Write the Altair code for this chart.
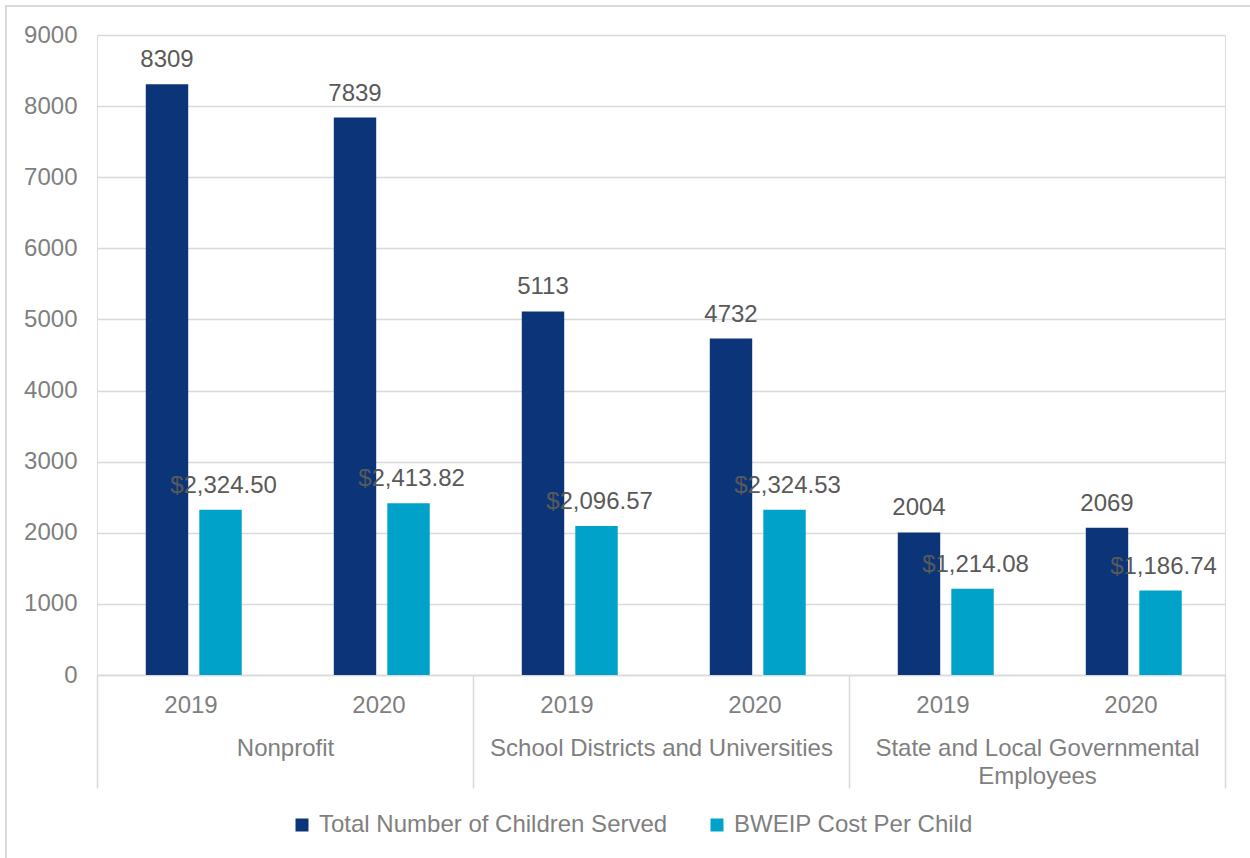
import altair as alt
import pandas as pd

categories = ["Nonprofit", "School Districts and Universities", "State and Local Governmental Employees"]
years = ["2019", "2020"]
series = ["Total Number of Children Served", "BWEIP Cost Per Child"]
children_served = [8309, 7839, 5113, 4732, 2004, 2069]
cost_per_child = [2324.50, 2413.82, 2096.57, 2324.53, 1214.08, 1186.74]
y_ticks = [0, 1000, 2000, 3000, 4000, 5000, 6000, 7000, 8000, 9000]

colors = ["#0b3578", "#00a2c9"]
GRAY = "#7f7f7f"
LABEL = "#595959"
FONT = "Liberation Sans"

rows = []
slots = []
i = 0
for c in categories:
    for yr in years:
        slot = f"{c}|{yr}"
        slots.append(slot)
        rows.append({"slot": slot, "series": series[0], "value": children_served[i],
                     "label": f"{children_served[i]:d}"})
        rows.append({"slot": slot, "series": series[1], "value": cost_per_child[i],
                     "label": f"${cost_per_child[i]:,.2f}"})
        i += 1
df = pd.DataFrame(rows)
cat_df = pd.DataFrame({"category": categories})

x_enc = alt.X("slot:N", sort=slots,
              scale=alt.Scale(paddingInner=0, paddingOuter=0),
              axis=alt.Axis(title=None, labelExpr="split(datum.value, '|')[1]",
                            ticks=False, domain=False, grid=False, labelAngle=0,
                            labelPadding=30, labelBaseline="middle",
                            labelFontSize=24, labelColor=GRAY, labelFont=FONT))
xoff_enc = alt.XOffset("series:N", sort=series,
                       scale=alt.Scale(paddingInner=0.2075, paddingOuter=0.86, align=0.53))
y_enc = alt.Y("value:Q", scale=alt.Scale(domain=[0, 9000], nice=False),
              axis=alt.Axis(title=None, values=y_ticks, format="d", ticks=False,
                            domain=False, grid=True, gridColor="#d9d9d9",
                            gridWidth=1.5, labelPadding=20, labelFontSize=24,
                            labelColor=GRAY, labelFont=FONT))

bars = alt.Chart(df).mark_bar().encode(
    x=x_enc,
    xOffset=xoff_enc,
    y=y_enc,
    color=alt.Color("series:N", sort=series,
                    scale=alt.Scale(domain=series, range=colors),
                    legend=alt.Legend(title=None, orient="none", direction="horizontal",
                                      legendX=193, legendY=778,
                                      symbolType="square", symbolSize=169,
                                      symbolStrokeWidth=0, labelFontSize=24,
                                      labelColor=GRAY, labelFont=FONT,
                                      labelOffset=5, columnPadding=37,
                                      labelLimit=500)),
)

count_text = alt.Chart(df).transform_filter(
    alt.datum.series == series[0]
).mark_text(baseline="alphabetic", dy=-17, fontSize=24, font=FONT, color=LABEL).encode(
    x=x_enc,
    xOffset=xoff_enc,
    y=y_enc,
    text="label:N",
)

cost_text = alt.Chart(df).transform_filter(
    alt.datum.series == series[1]
).mark_text(baseline="alphabetic", dy=-17, dx=3, fontSize=24, font=FONT, color=LABEL).encode(
    x=x_enc,
    xOffset=xoff_enc,
    y=y_enc,
    text="label:N",
)

cat_layer = alt.Chart(cat_df).mark_point(opacity=0).encode(
    x=alt.X("category:N", sort=categories,
            scale=alt.Scale(paddingInner=0, paddingOuter=0),
            axis=alt.Axis(title=None, orient="bottom", labelAngle=0,
                          labelExpr="datum.value == 'State and Local Governmental Employees' ? ['State and Local Governmental', 'Employees'] : datum.value",
                          ticks=True, tickBand="extent", tickSize=113,
                          tickColor="#d9d9d9", tickWidth=1.5,
                          domain=True, domainColor="#d9d9d9", domainWidth=1.5,
                          labelPadding=-52, labelBaseline="top",
                          labelLineHeight=28, labelLimit=500,
                          labelFontSize=24, labelColor=GRAY, labelFont=FONT,
                          grid=False)),
)

frame = alt.Chart(cat_df).mark_rect(fill=None, stroke="#d9d9d9", strokeWidth=1.5).encode(
    x=alt.value(-91), x2=alt.value(1400), y=alt.value(-29), y2=alt.value(1000)
)

chart = alt.layer(frame, alt.layer(bars, count_text, cost_text), cat_layer).resolve_scale(
    x="independent"
).properties(
    width=1128, height=640,
    autosize=alt.AutoSizeParams(type="none"),
    padding={"left": 97, "top": 35, "right": 25, "bottom": 183},
).configure_view(stroke=None).configure(font=FONT)

chart.save("out.html", embed_options={"renderer": "svg", "actions": False})
